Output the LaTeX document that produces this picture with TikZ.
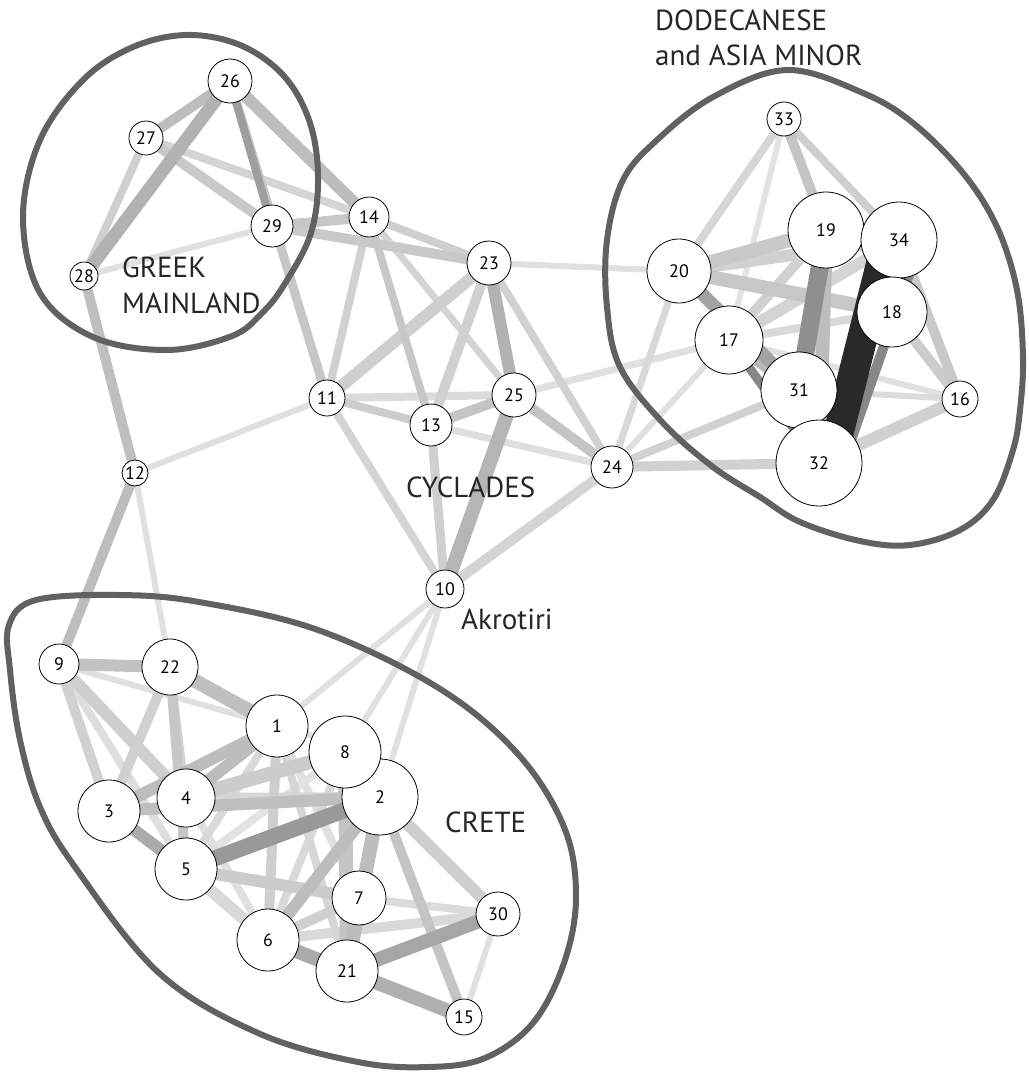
\documentclass[tikz,border=0pt]{standalone}
\usepackage{fontspec}
\setmainfont{PT Sans}
\pgfdeclarelayer{bg}
\pgfdeclarelayer{mid}
\pgfsetlayers{bg,mid,main}
\begin{document}
\begin{tikzpicture}[x=1pt,y=-1pt]
\tikzset{
  site/.style={circle, draw=black, line width=0.8pt, fill=white, inner sep=0pt, minimum size=#1, font=\fontsize{18}{18}\selectfont},
  region/.style={draw=black!62, line width=6pt},
  lbl/.style={anchor=base west, inner sep=0pt, font=\fontsize{29}{29}\selectfont, text=black!85},
  link/.style={line cap=butt}
}
\useasboundingbox (0,0) rectangle (1028,1073);

% nodes (drawn in main layer)
\foreach \n/\x/\y/\r in {1/277/726/31, 2/380/797/38, 3/109/811/31, 4/186/798/29, 5/186/869/31,
  6/268/940/31, 7/359/898/27, 8/345/752/36, 9/59/664/20, 10/445/589/19, 11/327/398/18,
  12/135/473/13, 13/431/425/21, 14/369/217/20, 15/464/1017/18, 16/960/399/18, 17/729/340/34,
  19/826/230/38, 34/899/240/38, 18/892/312/35, 20/679/271/32, 21/347/971/31, 22/170/667/28,
  23/489/263/22, 24/612/467/21, 25/514/395/22, 26/230/81/22, 27/146/138/17, 28/84/276/14,
  29/272/226/21, 30/498/914/22, 31/799/390/38, 32/819/463/43, 33/784/119/17}
  \node[site=2*\r pt] (n\n) at (\x,\y) {\n};

% connectors
\begin{pgfonlayer}{bg}
\fill[white] (0,0) rectangle (1028,1073);
\foreach \a/\b/\w/\g in {
  28/29/6/12, 12/11/6/12, 12/22/6/12, 23/20/6/12, 13/24/7/13, 25/17/7/12, 24/17/6/12,
  10/1/6/12, 10/8/6/12, 10/2/6/12, 33/17/6/11, 17/16/6/12, 31/16/6/14,
  9/1/6/12, 22/8/6/12, 1/7/8/12, 9/5/8/13, 5/8/8/11, 4/6/8/12, 30/15/6/12, 7/30/8/14,
  11/25/8/14, 24/20/7/15, 1/5/8/15, 8/6/8/15, 5/6/12/15, 6/30/10/15, 4/2/10/16, 1/21/8/16,
  33/20/8/16, 27/14/8/17, 14/25/7/17, 11/10/8/17, 24/10/10/17, 17/34/12/17, 17/18/8/15,
  14/11/8/18, 23/13/10/18, 23/24/8/18, 24/31/8/18, 24/32/10/18, 20/34/12/18, 17/19/10/18,
  32/16/12/18, 9/3/10/18, 22/3/10/18, 22/4/8/18, 27/28/8/19, 14/23/8/19, 23/11/12/19,
  13/10/9/19, 33/34/8/19, 9/4/12/19, 1/6/10/19, 2/30/12/19, 6/7/10/19,
  18/16/10/20, 11/13/8/20, 4/8/14/20, 5/7/12/20, 2/7/10/20,
  27/29/10/21, 29/23/10/21, 34/16/10/21, 20/19/14/21,
  26/11/9/22, 29/14/10/22, 14/13/8/22, 20/18/14/22, 22/5/10/22,
  13/25/10/23, 25/24/10/23, 33/19/10/23, 8/21/14/23, 2/15/10/23,
  9/22/12/24, 28/12/10/25, 22/1/14/25, 3/2/12/25, 19/32/14/26,
  26/27/10/26, 26/14/12/26, 12/9/10/26, 1/4/12/26, 1/3/12/26, 2/6/12/26, 2/21/14/26,
  17/31/12/28, 26/28/13/30, 25/10/14/29, 23/25/12/30,
  21/15/14/31, 3/5/12/33, 6/21/14/33, 21/30/14/35, 20/31/13/36,
  26/29/8/38, 5/2/16/40, 19/31/18/44, 17/32/9/47}
  \draw[link, line width=\w pt, draw=black!\g] (n\a.center) -- (n\b.center);
\draw[link, line width=10pt, draw=black!47] ([xshift=22pt]n34.center) -- ([xshift=24pt]n32.center);
\draw[link, line width=30pt, draw=black!84] ([xshift=-12pt]n34.center) -- ([xshift=12pt]n32.center);
\end{pgfonlayer}

% regions
\begin{pgfonlayer}{mid}
\draw[region] plot[smooth cycle, tension=0.6] coordinates {
  (187,35) (240,45) (283,75) (309,120) (318,175) (311,233) (284,285) (262,313) (232,336)
  (167,350) (93,337) (40,293) (23,217) (40,140) (83,80) (133,47)};
\draw[region] plot[smooth cycle, tension=0.6] coordinates {
  (787,70) (863,93) (913,123) (963,173) (997,227) (1017,290) (1023,357) (1020,410)
  (1013,450) (993,500) (960,530) (910,545) (860,541) (800,522) (760,497) (713,467)
  (663,423) (620,367) (607,307) (607,240) (623,180) (657,140) (713,97)};
\draw[region] plot[smooth cycle, tension=0.6] coordinates {
  (9,625) (36,600) (119,595) (199,602) (318,630) (437,687) (517,753) (564,827)
  (576,897) (564,963) (533,1023) (485,1058) (429,1067) (358,1062) (258,1033)
  (159,973) (75,867) (40,807) (20,740) (10,670)};
\end{pgfonlayer}

% labels
\node[lbl] (tgreek) at (122,277) {GREEK};
\node[lbl] (tmain) at (122,313) {MAINLAND};
\node[lbl] (tdod) at (655,31) {DODECANESE};
\node[lbl] (tasia) at (655,66) {and ASIA MINOR};
\node[lbl] (tcyc) at (406,497) {CYCLADES};
\node[lbl] (takr) at (461,629) {Akrotiri};
\node[lbl] (tcrete) at (445,832) {CRETE};
\end{tikzpicture}
\end{document}
